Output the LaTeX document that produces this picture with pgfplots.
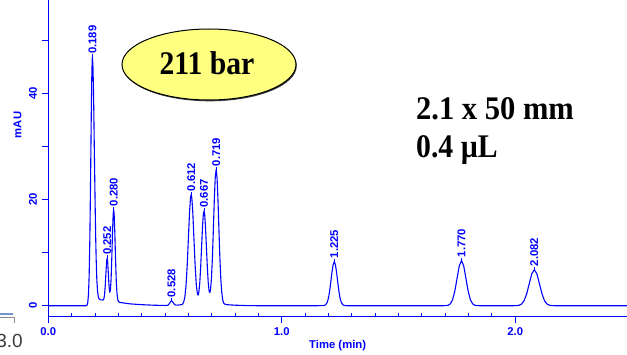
\documentclass[border=0pt]{standalone}
\usepackage{pgfplots}
\pgfplotsset{compat=1.18}
\usepackage{pgfplotstable}
\usepackage{fontspec}
\setmainfont{Liberation Sans}
\newfontfamily\bigserif[FakeStretch=0.9]{Liberation Serif}
\newfontfamily\bigserifw[FakeStretch=0.925]{Liberation Serif}
\definecolor{trace}{RGB}{0,0,255}
\definecolor{ellfill}{RGB}{255,255,128}
\definecolor{artgray}{RGB}{60,60,60}
\definecolor{artblue}{RGB}{110,150,200}
\newcommand{\lab}{\fontsize{11.3}{13}\selectfont\bfseries}
\newcommand{\bigtxt}{\bigserif\bfseries\fontsize{33}{38}\selectfont}
\newcommand{\bigtxtw}{\bigserifw\bfseries\fontsize{33}{38}\selectfont}

\pgfplotstableread{
t v
0.000 0
0.100 0
0.160 0
0.166 0.10
0.169 0.60
0.172 2.05
0.175 5.60
0.178 12.6
0.181 23.4
0.184 35.7
0.186 42.5
0.188 46.3
0.189 46.8
0.191 45.5
0.193 41.9
0.195 36.5
0.197 30.0
0.199 23.9
0.201 18.1
0.203 12.9
0.205 8.90
0.208 4.80
0.211 2.70
0.215 1.50
0.220 1.20
0.225 1.10
0.230 1.10
0.235 1.07
0.238 1.30
0.241 2.10
0.244 3.80
0.247 6.30
0.250 8.45
0.252 8.95
0.254 8.45
0.257 6.23
0.260 3.85
0.263 2.53
0.266 2.88
0.269 5.00
0.272 9.00
0.275 13.7
0.278 17.3
0.280 18.1
0.282 17.3
0.285 13.7
0.288 8.90
0.291 4.85
0.294 2.43
0.297 1.27
0.300 0.83
0.305 0.64
0.310 0.60
0.350 0.35
0.400 0.20
0.450 0.10
0.500 0.05
0.510 0.06
0.515 0.18
0.520 0.49
0.524 0.79
0.528 0.92
0.532 0.79
0.536 0.50
0.541 0.22
0.546 0.12
0.555 0.12
0.560 0.15
0.570 0.19
0.575 0.30
0.580 0.67
0.585 1.67
0.590 3.81
0.595 7.55
0.600 12.55
0.605 17.55
0.609 20.25
0.612 20.95
0.615 20.25
0.619 17.55
0.624 12.55
0.629 7.58
0.634 3.94
0.639 2.17
0.642 2.01
0.645 2.54
0.649 4.37
0.653 7.50
0.657 11.40
0.661 15.15
0.664 17.15
0.667 17.85
0.670 17.15
0.673 15.15
0.677 11.42
0.681 7.52
0.685 4.43
0.689 2.75
0.692 2.46
0.695 3.02
0.699 5.22
0.703 9.05
0.707 14.25
0.711 19.75
0.715 24.05
0.719 25.65
0.723 24.05
0.727 19.75
0.731 14.25
0.735 9.00
0.739 5.05
0.743 2.52
0.747 1.15
0.751 0.52
0.756 0.30
0.765 0.20
0.800 0.10
0.850 0.03
0.900 0.00
1.150 0.00
1.180 0.03
1.188 0.17
1.195 0.65
1.200 1.41
1.205 2.70
1.210 4.40
1.215 6.26
1.220 7.73
1.225 8.30
1.230 7.73
1.235 6.26
1.240 4.40
1.245 2.70
1.250 1.41
1.255 0.65
1.262 0.17
1.270 0.03
1.280 0.00
1.690 0.00
1.7035 0.02
1.713 0.09
1.7225 0.37
1.732 1.15
1.7415 2.76
1.751 5.16
1.7605 7.50
1.770 8.50
1.7795 7.50
1.789 5.16
1.7985 2.76
1.808 1.15
1.8175 0.37
1.827 0.09
1.8365 0.02
1.850 0.00
1.990 0.00
2.005 0.015
2.016 0.075
2.027 0.30
2.038 0.92
2.049 2.21
2.060 4.12
2.071 6.00
2.082 6.80
2.093 6.00
2.104 4.12
2.115 2.21
2.126 0.92
2.137 0.30
2.148 0.075
2.159 0.015
2.175 0.00
2.479 0.00
}\tracedata

\pgfplotstableread{
t v lab
0.189 46.8 0.189
0.252 8.95 0.252
0.280 18.1 0.280
0.528 0.92 0.528
0.612 20.95 0.612
0.667 17.85 0.667
0.719 25.65 0.719
1.225 8.30 1.225
1.770 8.50 1.770
2.082 6.80 2.082
}\peakdata

\begin{document}
\begin{tikzpicture}
\begin{axis}[
  at={(48.3pt,37.5pt)}, anchor=south west,
  width=578.7pt, height=316.5pt, scale only axis,
  xmin=0, xmax=2.479, ymin=-2.03, ymax=57.6,
  axis x line=bottom, axis y line=left,
  axis line style={trace, line width=0.8pt, -},
  xtick={0,1,2}, xticklabels={0.0,1.0,2.0},
  minor x tick num=9,
  ytick={0,10,20,30,40,50}, yticklabels={0,,20,,40,},
  tick style={trace, line width=0.8pt},
  major tick length=6pt, minor tick length=3.5pt,
  tick align=outside,
  minor x tick style={yshift=3.5pt},
  xticklabel style={font=\lab, text=trace, anchor=north, inner sep=0pt},
  yticklabel style={font=\lab, text=trace, rotate=90, anchor=south, inner sep=0pt},
  xticklabel shift=5pt, yticklabel shift=5pt,
  xlabel={Time (min)}, ylabel={mAU},
  xlabel style={font=\lab, text=trace, at={(axis description cs:0.5,-0.0932)}, anchor=center},
  ylabel style={font=\lab, text=trace, at={(axis description cs:-0.0532,0.605)}, anchor=center},
  clip=false,
]
\addplot[trace, line width=1.1pt, line join=round] table[x=t, y=v] {\tracedata};
\addplot[draw=none, mark=none, trace,
  error bars/.cd, y dir=plus, y fixed=0.55, error mark=none,
  error bar style={trace, line width=0.8pt}]
  table[x=t, y=v] {\peakdata};
\addplot[draw=none, mark=none,
  nodes near coords, point meta=explicit symbolic,
  every node near coord/.style={rotate=90, anchor=west, font=\lab, text=trace,
    inner xsep=3.3pt, inner ysep=0pt}]
  table[x=t, y=v, meta=lab] {\peakdata};
\end{axis}
\fill[black!75] (209.8pt,288.2pt) ellipse (87pt and 35.5pt);
\draw[fill=ellfill, line width=1pt] (209pt,289.5pt) ellipse (87pt and 35.5pt);
\node[anchor=base, inner sep=0pt] at (207pt,279pt) {\bigtxt 211 bar};
\node[anchor=base west, inner sep=0pt] at (416pt,234pt) {\bigtxtw 2.1 x 50 mm};
\node[anchor=base west, inner sep=0pt] at (416pt,196pt) {\bigtxt 0.4 µL};
\node[anchor=base east, inner sep=0pt, text=artgray] at (23pt,7pt) {\fontsize{19}{22}\selectfont 3.0};
\draw[artblue, line width=2pt] (0pt,40.5pt) -- (13pt,40.5pt);
\draw[black!45, line width=1pt] (0pt,36.5pt) -- (14pt,36.5pt) -- (14pt,31pt);
\pgfresetboundingbox
\path[use as bounding box] (0pt,0pt) rectangle (627pt,354pt);
\end{tikzpicture}
\end{document}
